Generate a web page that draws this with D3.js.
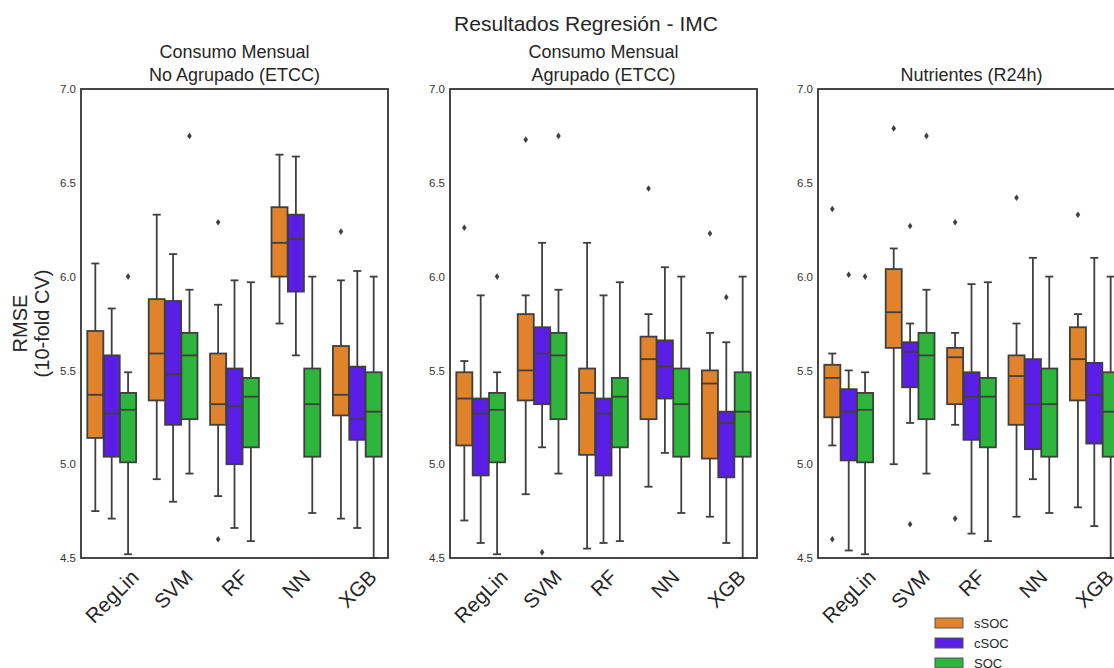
<!DOCTYPE html>
<html>
<head>
<meta charset="utf-8">
<script src="https://cdn.jsdelivr.net/npm/d3@7"></script>
<style>
  body { margin: 0; background: #fff; }
  svg { display: block; font-family: "Liberation Sans", Arial, sans-serif; }
</style>
</head>
<body>
<script>
// Categories
const models = ["RegLin", "SVM", "RF", "NN", "XGB"];
const groups = ["sSOC", "cSOC", "SOC"];
const groupColors = ["#e0832a", "#5b1ee6", "#2eb53c"];
const yTicks = [4.5, 5.0, 5.5, 6.0, 6.5, 7.0];
const panelTitles = [
  ["Consumo Mensual", "No Agrupado (ETCC)"],
  ["Consumo Mensual", "Agrupado (ETCC)"],
  ["Nutrientes (R24h)"]
];

// box stats per model: [whisker low, q1, median, q3, whisker high]
const noAgrupadoSSOC = [[4.75, 5.14, 5.37, 5.71, 6.07], [4.92, 5.34, 5.59, 5.88, 6.33], [4.83, 5.21, 5.32, 5.59, 5.85], [5.75, 6.00, 6.18, 6.37, 6.65], [4.71, 5.26, 5.37, 5.63, 5.98]];
const noAgrupadoCSOC = [[4.71, 5.04, 5.27, 5.58, 5.83], [4.80, 5.21, 5.48, 5.87, 6.12], [4.66, 5.00, 5.31, 5.51, 5.98], [5.58, 5.92, 6.20, 6.33, 6.64], [4.66, 5.13, 5.24, 5.52, 6.03]];
const agrupadoSSOC = [[4.70, 5.10, 5.35, 5.49, 5.55], [4.84, 5.34, 5.50, 5.80, 5.90], [4.55, 5.05, 5.38, 5.51, 6.18], [4.88, 5.24, 5.56, 5.68, 5.80], [4.72, 5.03, 5.43, 5.50, 5.70]];
const agrupadoCSOC = [[4.58, 4.94, 5.27, 5.35, 5.90], [5.09, 5.32, 5.59, 5.73, 6.18], [4.58, 4.94, 5.27, 5.35, 5.90], [5.06, 5.35, 5.52, 5.66, 6.05], [4.58, 4.93, 5.22, 5.28, 5.65]];
const nutrientesSSOC = [[5.10, 5.25, 5.46, 5.53, 5.59], [5.00, 5.62, 5.81, 6.04, 6.15], [5.21, 5.32, 5.57, 5.62, 5.70], [4.72, 5.21, 5.47, 5.58, 5.75], [4.77, 5.34, 5.56, 5.73, 5.80]];
const nutrientesCSOC = [[4.54, 5.02, 5.28, 5.40, 5.50], [5.22, 5.41, 5.60, 5.65, 5.75], [4.63, 5.13, 5.36, 5.49, 5.96], [4.92, 5.08, 5.32, 5.56, 6.10], [4.67, 5.11, 5.37, 5.54, 6.10]];
// SOC is the same in all three panels
const socStats = [[4.52, 5.01, 5.29, 5.38, 5.49], [4.95, 5.24, 5.58, 5.70, 5.93], [4.59, 5.09, 5.36, 5.46, 5.97], [4.74, 5.04, 5.32, 5.51, 6.00], [4.50, 5.04, 5.28, 5.49, 6.00]];

// outliers per model
const noAgrupadoSSOCOut = [[], [], [6.29, 4.60], [], [6.24]];
const noAgrupadoCSOCOut = [[], [], [], [], []];
const agrupadoSSOCOut = [[6.26], [6.73], [], [6.47], [6.23]];
const agrupadoCSOCOut = [[], [4.53], [], [], [5.89]];
const nutrientesSSOCOut = [[6.36, 4.60], [6.79], [6.29, 4.71], [6.42], [6.33]];
const nutrientesCSOCOut = [[6.01], [6.27, 4.68], [], [], []];
const socOut = [[6.00], [6.75], [], [], []];

const panels = [
  { stats: [noAgrupadoSSOC, noAgrupadoCSOC, socStats], out: [noAgrupadoSSOCOut, noAgrupadoCSOCOut, socOut] },
  { stats: [agrupadoSSOC, agrupadoCSOC, socStats], out: [agrupadoSSOCOut, agrupadoCSOCOut, socOut] },
  { stats: [nutrientesSSOC, nutrientesCSOC, socStats], out: [nutrientesSSOCOut, nutrientesCSOCOut, socOut] }
];

// Layout
const width = 1114, height = 668;
const panelLeft = [81, 450, 818];
const panelWidth = 307;
const marginTop = 89, plotBottom = 558;
const lineColor = "#3f3f3f";
const lw = 1.8;

const svg = d3.select("body").append("svg")
  .attr("width", width)
  .attr("height", height)
  .attr("viewBox", [0, 0, width, height]);

const y = d3.scaleLinear().domain([4.5, 7.0]).range([plotBottom, marginTop]);

// Suptitle
svg.append("text")
  .attr("x", 586).attr("y", 31)
  .attr("text-anchor", "middle")
  .attr("font-size", 21)
  .attr("fill", "#262626")
  .text("Resultados Regresión - IMC");

const defs = svg.append("defs");

panels.forEach((panel, pi) => {
  const left = panelLeft[pi];
  const x = d3.scaleBand().domain(models).range([left, left + panelWidth]).padding(0);
  const inner = d3.scaleBand().domain(groups).range([0, x.bandwidth() * 0.8]).padding(0);
  const boxW = inner.bandwidth() * 0.98;
  const offset = x.bandwidth() * 0.1;

  defs.append("clipPath").attr("id", `clip${pi}`)
    .append("rect")
    .attr("x", left).attr("y", marginTop - 2)
    .attr("width", panelWidth).attr("height", plotBottom - marginTop + 4);

  const g = svg.append("g");
  const plot = g.append("g").attr("clip-path", `url(#clip${pi})`);

  // Title
  const title = panelTitles[pi];
  title.forEach((line, li) => {
    g.append("text")
      .attr("x", left + panelWidth / 2)
      .attr("y", 81 - (title.length - 1 - li) * 23)
      .attr("text-anchor", "middle")
      .attr("font-size", 18)
      .attr("fill", "#262626")
      .text(line);
  });

  // Boxes
  groups.forEach((grp, gi) => {
    models.forEach((m, mi) => {
      const [lo, q1, med, q3, hi] = panel.stats[gi][mi];
      const cx = x(m) + offset + inner(grp) + inner.bandwidth() / 2;
      const bg = plot.append("g");

      // whiskers
      bg.append("line").attr("x1", cx).attr("x2", cx).attr("y1", y(q3)).attr("y2", y(hi))
        .attr("stroke", lineColor).attr("stroke-width", lw);
      bg.append("line").attr("x1", cx).attr("x2", cx).attr("y1", y(q1)).attr("y2", y(lo))
        .attr("stroke", lineColor).attr("stroke-width", lw);
      [lo, hi].forEach(v => {
        bg.append("line")
          .attr("x1", cx - boxW / 4).attr("x2", cx + boxW / 4)
          .attr("y1", y(v)).attr("y2", y(v))
          .attr("stroke", lineColor).attr("stroke-width", lw);
      });

      bg.append("rect")
        .attr("x", cx - boxW / 2).attr("y", y(q3))
        .attr("width", boxW).attr("height", y(q1) - y(q3))
        .attr("fill", groupColors[gi])
        .attr("stroke", lineColor).attr("stroke-width", lw);

      bg.append("line")
        .attr("x1", cx - boxW / 2).attr("x2", cx + boxW / 2)
        .attr("y1", y(med)).attr("y2", y(med))
        .attr("stroke", lineColor).attr("stroke-width", lw);

      panel.out[gi][mi].forEach(v => {
        bg.append("path")
          .attr("transform", `translate(${cx},${y(v)})`)
          .attr("d", "M0,-3.3L2.3,0L0,3.3L-2.3,0Z")
          .attr("fill", lineColor);
      });
    });
  });

  // Frame
  g.append("rect")
    .attr("x", left).attr("y", marginTop)
    .attr("width", panelWidth).attr("height", plotBottom - marginTop)
    .attr("fill", "none")
    .attr("stroke", "#333")
    .attr("stroke-width", 1.8);

  // Y axis ticks
  const yAxis = d3.axisLeft(y).tickValues(yTicks).tickFormat(d3.format(".1f")).tickSize(0).tickPadding(5);
  g.append("g")
    .attr("transform", `translate(${left},0)`)
    .call(yAxis)
    .call(a => a.select(".domain").remove())
    .selectAll("text")
    .attr("font-size", 11.5)
    .attr("font-family", "Liberation Sans, Arial, sans-serif")
    .attr("fill", "#333");

  // X tick labels, rotated 45 degrees
  models.forEach(m => {
    const cx = x(m) + x.bandwidth() / 2;
    const t = g.append("text")
      .attr("text-anchor", "middle")
      .attr("dominant-baseline", "central")
      .attr("font-size", 20.5)
      .attr("fill", "#262626")
      .text(m);
    const L = t.node().getComputedTextLength();
    const half = (L + 20.5 * 0.85) * Math.SQRT1_2 / 2;
    t.attr("transform", `translate(${cx},${plotBottom + 9 + half}) rotate(-45)`);
  });
});

// Y axis label
const yLabel = svg.append("text")
  .attr("transform", `translate(27,${(marginTop + plotBottom) / 2}) rotate(-90)`)
  .attr("text-anchor", "middle")
  .attr("font-size", 20)
  .attr("fill", "#262626");
yLabel.append("tspan").attr("x", 0).attr("y", 0).text("RMSE");
yLabel.append("tspan").attr("x", 0).attr("y", 22).text("(10-fold CV)");

// Legend
const legend = svg.append("g").attr("transform", "translate(935,623)");
groups.forEach((grp, i) => {
  const row = legend.append("g").attr("transform", `translate(0,${i * 20})`);
  row.append("rect")
    .attr("x", 0).attr("y", -5)
    .attr("width", 28).attr("height", 10)
    .attr("fill", groupColors[i])
    .attr("stroke", "#555").attr("stroke-width", 1);
  row.append("text")
    .attr("x", 39).attr("y", 0)
    .attr("dominant-baseline", "central")
    .attr("font-size", 13)
    .attr("fill", "#262626")
    .text(grp);
});
</script>
</body>
</html>
